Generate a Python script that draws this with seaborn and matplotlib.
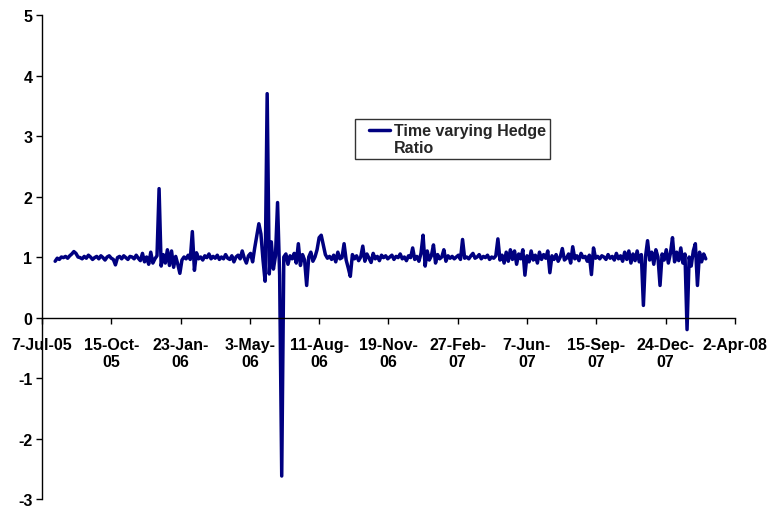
import pandas as pd
import matplotlib
matplotlib.use("Agg")
import matplotlib.pyplot as plt
import seaborn as sns

# hedge ratio, one value every 3 days from 26-Jul-05
start_date = "2005-07-26"
hedge_ratio = [
    0.93, 0.98, 0.96, 1.00, 0.99, 1.01, 0.98, 1.02, 1.05, 1.09, 1.06, 1.00, 0.99, 0.97, 1.01, 0.98, 1.03, 1.00, 0.96, 0.99,
    1.01, 0.97, 1.02, 0.99, 0.95, 1.00, 1.02, 0.98, 0.96, 0.87, 0.99, 1.01, 0.97, 1.02, 0.99, 0.96, 1.01, 1.00, 0.97, 1.03,
    0.98, 0.94, 1.06, 0.92, 1.00, 0.88, 1.08, 0.90, 0.97, 1.02, 2.13, 0.85, 1.04, 0.90, 1.12, 0.86, 1.10, 0.83, 1.01, 0.88,
    0.73, 0.95, 1.00, 0.97, 1.03, 0.96, 1.42, 0.78, 1.07, 0.97, 1.00, 0.95, 1.02, 0.99, 1.05, 0.97, 1.01, 0.98, 1.03, 0.96,
    1.00, 0.97, 1.04, 0.98, 0.96, 1.02, 0.92, 1.00, 1.03, 0.97, 1.10, 0.98, 0.90, 1.02, 1.06, 0.92, 1.15, 1.35, 1.55, 1.38,
    0.95, 0.60, 3.70, 0.72, 1.25, 0.80, 1.02, 1.90, 0.70, -2.62, 1.00, 1.05, 0.88, 1.02, 0.97, 1.06, 0.90, 1.22, 0.86, 1.04,
    0.95, 0.53, 1.00, 1.08, 0.93, 1.00, 1.12, 1.32, 1.36, 1.20, 1.04, 0.98, 1.01, 0.96, 1.03, 0.92, 1.08, 0.97, 0.99, 1.22,
    0.95, 0.82, 0.68, 1.04, 0.97, 1.02, 0.94, 1.00, 1.18, 0.93, 1.05, 0.98, 0.91, 1.06, 0.97, 1.01, 0.94, 1.03, 0.99, 1.02,
    0.97, 1.00, 1.03, 0.96, 1.01, 0.99, 1.05, 0.97, 1.00, 0.94, 1.02, 0.99, 1.15, 0.96, 1.01, 0.93, 1.06, 1.36, 0.85, 1.10,
    0.95, 1.02, 1.20, 0.90, 1.04, 0.97, 1.00, 1.12, 0.93, 1.02, 0.98, 1.01, 0.97, 1.00, 1.03, 0.96, 1.29, 0.98, 1.00, 0.97,
    1.02, 1.06, 0.98, 1.00, 1.04, 0.97, 1.01, 0.99, 1.03, 0.96, 1.00, 0.98, 1.02, 1.30, 0.95, 1.03, 0.90, 1.08, 0.93, 1.12,
    0.96, 1.10, 0.88, 1.05, 0.97, 1.12, 0.70, 1.02, 0.92, 1.10, 0.95, 1.03, 0.90, 1.08, 0.96, 1.04, 0.98, 1.10, 0.74, 1.02,
    0.96, 1.04, 0.93, 1.00, 1.14, 0.95, 0.98, 1.05, 0.90, 1.17, 0.97, 1.02, 0.94, 1.06, 0.99, 1.01, 0.93, 1.03, 0.71, 1.15,
    0.98, 1.01, 0.97, 1.02, 1.00, 0.96, 1.04, 0.98, 1.01, 0.95, 1.06, 0.97, 1.02, 0.93, 1.08, 0.96, 1.10, 0.90, 1.05, 0.94,
    1.10, 0.92, 1.04, 0.20, 1.00, 1.27, 0.95, 1.08, 0.88, 1.12, 1.00, 0.53, 1.05, 0.95, 1.12, 0.90, 1.06, 1.32, 0.92, 1.08,
    0.94, 1.15, 0.90, 1.05, -0.20, 1.00, 0.85, 1.10, 1.22, 0.53, 1.08, 0.92, 1.05, 0.97,
]

# x axis ticks, every 100 days
tick_dates = ["2005-07-07", "2005-10-15", "2006-01-23", "2006-05-03", "2006-08-11", "2006-11-19",
              "2007-02-27", "2007-06-07", "2007-09-15", "2007-12-24", "2008-04-02"]
tick_labels = ["7-Jul-05", "15-Oct-\n05", "23-Jan-\n06", "3-May-\n06", "11-Aug-\n06", "19-Nov-\n06",
               "27-Feb-\n07", "7-Jun-\n07", "15-Sep-\n07", "24-Dec-\n07", "2-Apr-08"]
y_ticks = [-3, -2, -1, 0, 1, 2, 3, 4, 5]
series_name = "Time varying Hedge\nRatio"

df = pd.DataFrame({
    "Date": pd.date_range(start_date, periods=len(hedge_ratio), freq="3D"),
    "Ratio": hedge_ratio,
})

sns.set_style("white")
plt.rcParams["font.family"] = ["Liberation Sans", "DejaVu Sans"]
plt.rcParams["font.weight"] = "bold"
plt.rcParams["font.size"] = 11.5
plt.rcParams["xtick.labelsize"] = 11.5
plt.rcParams["ytick.labelsize"] = 11.5

fig = plt.figure(figsize=(7.69, 5.10), dpi=100)
ax = fig.add_axes([0.0546, 0.0196, 0.901, 0.949])

sns.lineplot(data=df, x="Date", y="Ratio", color="#000080", linewidth=2.5,
             label=series_name, ax=ax)

ax.set_xlim(pd.Timestamp(tick_dates[0]), pd.Timestamp(tick_dates[-1]))
ax.set_ylim(-3, 5)
ax.set_yticks(y_ticks)
ax.set_yticklabels([str(v) for v in y_ticks])
ax.set_xticks(pd.to_datetime(tick_dates))
ax.set_xticklabels(tick_labels, linespacing=1.5)
ax.set_xlabel("")
ax.set_ylabel("")

for side in ["top", "right"]:
    ax.spines[side].set_visible(False)
ax.spines["bottom"].set_position(("data", 0))
for side in ["left", "bottom"]:
    ax.spines[side].set_color("black")
    ax.spines[side].set_linewidth(1.0)
ax.tick_params(axis="both", which="major", direction="out", length=4, width=1.0,
               color="black", labelcolor="black", left=True, bottom=True, pad=3)
ax.tick_params(axis="x", pad=10)

leg = ax.legend(loc="upper left", bbox_to_anchor=(0.452, 0.785), frameon=True,
                fancybox=False, edgecolor="black", handlelength=1.9,
                borderpad=0.25, handletextpad=0.3, borderaxespad=0,
                prop={"size": 11.5, "weight": "bold"})
leg.get_frame().set_linewidth(1.0)
# put the legend line level with the first text line, as Excel does
hline = leg.get_lines()[0]
hline.set_ydata([v + 7 for v in hline.get_ydata()])
xd = list(hline.get_xdata())
xd[0] = xd[0] + 7
hline.set_xdata(xd)

fig.savefig("out.png", dpi=100)
